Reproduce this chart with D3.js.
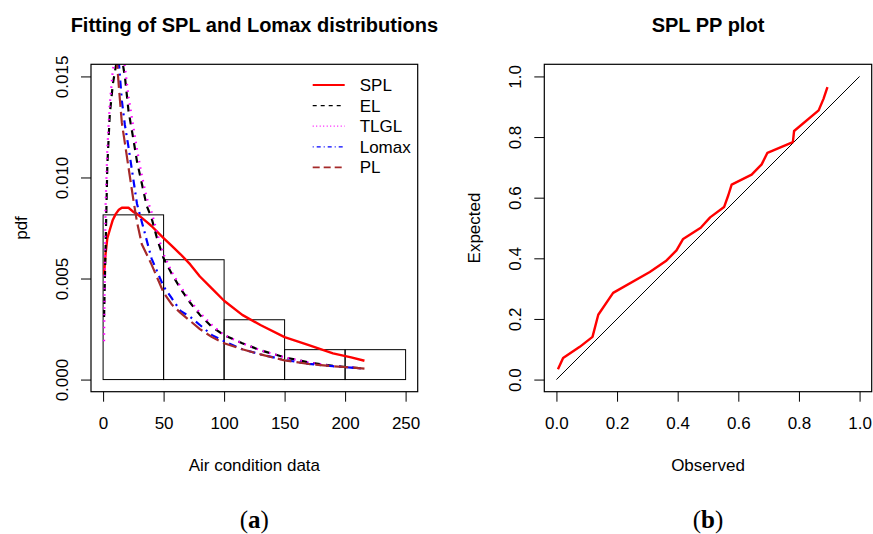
<!DOCTYPE html>
<meta charset="utf-8">
<title>SPL fitting</title>
<script src="https://d3js.org/d3.v7.min.js"></script>
<style>
  body { margin: 0; background: #fff; }
  text { font-family: "Liberation Sans", Arial, Helvetica, sans-serif; fill: #000; }
</style>
<body>
<div id="my_dataviz"></div>
<script>

// ---- data ----
// histogram of the air condition data (density scale)
var histBreaks = [0, 50, 100, 150, 200, 250];
var histDensity = [0.00815, 0.00593, 0.00296, 0.00148, 0.00148];

// x positions where the fitted pdfs were evaluated
var pdfX = [0.8, 2, 3.5, 5.5, 8, 10.5, 13, 15.5, 18, 21, 25, 28, 32, 36, 40, 45, 50, 57, 64, 72, 80, 90, 100, 115, 130, 150, 170, 190, 205, 216];
var splPdf   = [0.0052, 0.0062, 0.0070, 0.0074, 0.0079, 0.0082, 0.0084, 0.0085, 0.0085, 0.0085, 0.0083, 0.0082, 0.0080, 0.0078, 0.0076, 0.0073, 0.0070, 0.0066, 0.0062, 0.0057, 0.0051, 0.0045, 0.0039, 0.0032, 0.0027, 0.0021, 0.0017, 0.0013, 0.0011, 0.00093];
var elPdf    = [0.0031, 0.0064, 0.0106, 0.0131, 0.0146, 0.0155, 0.0160, 0.0159, 0.0150, 0.0133, 0.0119, 0.0108, 0.0097, 0.0086, 0.0080, 0.0069, 0.0060, 0.0052, 0.0045, 0.0038, 0.0032, 0.0026, 0.0022, 0.0018, 0.00145, 0.0011, 0.00085, 0.00068, 0.0006, 0.00055];
var tlglPdf  = [0.0019, 0.0085, 0.0114, 0.0136, 0.0153, 0.0161, 0.0164, 0.0162, 0.0155, 0.0140, 0.0125, 0.0114, 0.0101, 0.0090, 0.0083, 0.0072, 0.0062, 0.0053, 0.0046, 0.0039, 0.0033, 0.0027, 0.0022, 0.0018, 0.00145, 0.0011, 0.00085, 0.00067, 0.0006, 0.00054];
var lomaxPdf = [0.026, 0.025, 0.0235, 0.0215, 0.0195, 0.0175, 0.0157, 0.0138, 0.0126, 0.0115, 0.0099, 0.0087, 0.0078, 0.0069, 0.0060, 0.0053, 0.0046, 0.0040, 0.0034, 0.0031, 0.0027, 0.0022, 0.0019, 0.0015, 0.00125, 0.00097, 0.00078, 0.00066, 0.00059, 0.00054];
var plPdf    = [0.0245, 0.0235, 0.022, 0.020, 0.018, 0.0165, 0.0145, 0.0127, 0.0117, 0.0105, 0.0089, 0.0078, 0.0067, 0.0062, 0.0057, 0.0050, 0.0043, 0.0037, 0.0033, 0.0029, 0.0025, 0.0021, 0.0018, 0.0015, 0.00125, 0.00095, 0.00077, 0.00066, 0.0006, 0.00054];

// PP plot of the SPL fit
var ppObserved = [0.005, 0.022, 0.077, 0.119, 0.138, 0.187, 0.308, 0.361, 0.396, 0.418, 0.476, 0.507, 0.553, 0.567, 0.578, 0.644, 0.677, 0.696, 0.780, 0.784, 0.865, 0.881, 0.894];
var ppExpected = [0.034, 0.071, 0.108, 0.141, 0.214, 0.286, 0.355, 0.391, 0.426, 0.464, 0.501, 0.535, 0.569, 0.608, 0.643, 0.676, 0.710, 0.748, 0.783, 0.820, 0.888, 0.926, 0.965];

// tick values
var pdfXTicks = [0, 50, 100, 150, 200, 250];
var pdfYTicks = [0, 0.005, 0.010, 0.015];
var ppTicks = [0, 0.2, 0.4, 0.6, 0.8, 1.0];

var series = [
  {name: "SPL",   y: splPdf,   color: "red",     width: 2.4, dash: null,      legDash: null,      legWidth: 2.2},
  {name: "EL",    y: elPdf,    color: "black",   width: 2.2, dash: "7,6",     legDash: "4,4",     legWidth: 1.3},
  {name: "TLGL",  y: tlglPdf,  color: "magenta", width: 2.2, dash: "1.5,5",   legDash: "1,2.5",   legWidth: 1.3},
  {name: "Lomax", y: lomaxPdf, color: "blue",    width: 2.2, dash: "2,5,8,5", legDash: "1,3,4,3", legWidth: 1.3},
  {name: "PL",    y: plPdf,    color: "brown",   width: 2.2, dash: "14,5",    legDash: "7,4",     legWidth: 1.6}
];

var W = 873, H = 534;
var svg = d3.select("#my_dataviz")
  .append("svg")
    .attr("width", W)
    .attr("height", H);

// plot regions (R style, 4% padding on each axis)
var boxA = {left: 91, right: 417.7, top: 64.3, bottom: 391.7};
var boxB = {left: 544.3, right: 871.7, top: 64.3, bottom: 391.7};

function rAxes(g, box, x, y, xTicks, yTicks, xFmt, yFmt) {
  g.append("g")
    .attr("transform", "translate(0," + box.bottom + ")")
    .call(d3.axisBottom(x).tickValues(xTicks).tickFormat(xFmt).tickSize(10).tickSizeOuter(0).tickPadding(15))
    .call(function(a) { a.select(".domain").remove(); })
    .call(function(a) {
      a.selectAll("line").attr("stroke", "#000").attr("stroke-width", 1);
      a.selectAll("text").style("font-size", "17px").style("font-family", "Liberation Sans, Arial, sans-serif");
    });

  g.append("g")
    .attr("transform", "translate(" + box.left + ",0)")
    .call(d3.axisLeft(y).tickValues(yTicks).tickFormat(yFmt).tickSize(10).tickSizeOuter(0))
    .call(function(a) { a.select(".domain").remove(); })
    .call(function(a) {
      a.selectAll("line").attr("stroke", "#000").attr("stroke-width", 1);
      a.selectAll("text")
        .attr("transform", "rotate(-90)")
        .attr("x", 0)
        .attr("y", -29)
        .attr("dy", "0.35em")
        .attr("text-anchor", "middle")
        .style("font-size", "17px")
        .style("font-family", "Liberation Sans, Arial, sans-serif");
    });

  // box around plot
  g.append("rect")
    .attr("x", box.left).attr("y", box.top)
    .attr("width", box.right - box.left).attr("height", box.bottom - box.top)
    .attr("fill", "none").attr("stroke", "#000").attr("stroke-width", 1.2);
}

function labels(g, box, title, xlab, ylab, caption) {
  var cx = (box.left + box.right) / 2;
  var cy = (box.top + box.bottom) / 2;
  g.append("text").attr("x", cx).attr("y", 32)
    .attr("text-anchor", "middle").style("font-size", "20px").style("font-weight", "bold")
    .text(title);
  g.append("text").attr("x", cx).attr("y", 471)
    .attr("text-anchor", "middle").style("font-size", "17px")
    .text(xlab);
  g.append("text")
    .attr("transform", "translate(" + (box.left - 70) + "," + cy + ") rotate(-90)")
    .attr("dy", "0.35em")
    .attr("text-anchor", "middle").style("font-size", "17px")
    .text(ylab);
  var cap = g.append("text").attr("x", cx).attr("y", 528)
    .attr("text-anchor", "middle")
    .style("font-family", "'Liberation Serif', 'DejaVu Serif', serif").style("font-size", "25px");
  cap.append("tspan").text("(");
  cap.append("tspan").style("font-weight", "bold").text(caption);
  cap.append("tspan").text(")");
}

// ================= (a) pdf fits =================
var gA = svg.append("g");
var xA = d3.scaleLinear().domain([-10, 260]).range([boxA.left, boxA.right]);
var yA = d3.scaleLinear().domain([-0.0006, 0.0156]).range([boxA.bottom, boxA.top]);

gA.append("defs").append("clipPath")
    .attr("id", "clipA")
  .append("rect")
    .attr("x", boxA.left).attr("y", boxA.top)
    .attr("width", boxA.right - boxA.left).attr("height", boxA.bottom - boxA.top);

// histogram bars
gA.selectAll(".bar")
  .data(histDensity)
  .enter()
  .append("rect")
    .attr("class", "bar")
    .attr("x", function(d, i) { return xA(histBreaks[i]); })
    .attr("width", function(d, i) { return xA(histBreaks[i + 1]) - xA(histBreaks[i]); })
    .attr("y", function(d) { return yA(d); })
    .attr("height", function(d) { return yA(0) - yA(d); })
    .attr("fill", "none")
    .attr("stroke", "#000")
    .attr("stroke-width", 1);

// fitted pdf curves
var curves = gA.append("g").attr("clip-path", "url(#clipA)");
series.forEach(function(s) {
  curves.append("path")
    .datum(pdfX.map(function(x, i) { return [x, s.y[i]]; }))
    .attr("fill", "none")
    .attr("stroke", s.color)
    .attr("stroke-width", s.width)
    .attr("stroke-dasharray", s.dash)
    .attr("stroke-linejoin", "round")
    .attr("d", d3.line()
      .x(function(d) { return xA(d[0]); })
      .y(function(d) { return yA(d[1]); }));
});

rAxes(gA, boxA, xA, yA, pdfXTicks, pdfYTicks, d3.format("d"), d3.format(".3f"));
labels(gA, boxA, "Fitting of SPL and Lomax distributions", "Air condition data", "pdf", "a");

// legend (no frame)
var leg = gA.append("g").attr("transform", "translate(" + (boxA.right - 105) + "," + (boxA.top + 20.7) + ")");
series.forEach(function(s, i) {
  var row = leg.append("g").attr("transform", "translate(0," + (i * 20.6) + ")");
  row.append("line")
    .attr("x1", 0).attr("x2", 32).attr("y1", 0).attr("y2", 0)
    .attr("stroke", s.color)
    .attr("stroke-width", s.legWidth)
    .attr("stroke-dasharray", s.legDash);
  row.append("text")
    .attr("x", 47).attr("y", 0).attr("dy", "0.35em")
    .style("font-size", "17px")
    .text(s.name);
});

// ================= (b) PP plot =================
var gB = svg.append("g");
var xB = d3.scaleLinear().domain([-0.04, 1.04]).range([boxB.left, boxB.right]);
var yB = d3.scaleLinear().domain([-0.04, 1.04]).range([boxB.bottom, boxB.top]);

// reference diagonal
gB.append("path")
  .datum([[0, 0], [1, 1]])
  .attr("fill", "none")
  .attr("stroke", "#000")
  .attr("stroke-width", 1)
  .attr("d", d3.line().x(function(d) { return xB(d[0]); }).y(function(d) { return yB(d[1]); }));

gB.append("path")
  .datum(ppObserved.map(function(o, i) { return [o, ppExpected[i]]; }))
  .attr("fill", "none")
  .attr("stroke", "red")
  .attr("stroke-width", 2.4)
  .attr("stroke-linejoin", "round")
  .attr("d", d3.line().x(function(d) { return xB(d[0]); }).y(function(d) { return yB(d[1]); }));

rAxes(gB, boxB, xB, yB, ppTicks, ppTicks, d3.format(".1f"), d3.format(".1f"));
labels(gB, boxB, "SPL PP plot", "Observed", "Expected", "b");

</script>
</body>
